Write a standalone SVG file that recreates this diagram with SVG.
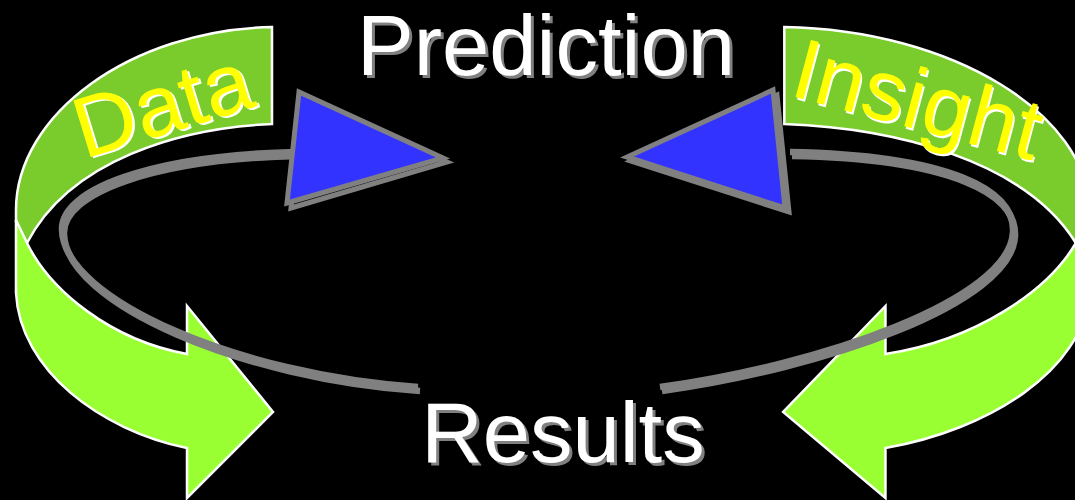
<svg xmlns="http://www.w3.org/2000/svg" xmlns:xlink="http://www.w3.org/1999/xlink" width="1075" height="500" viewBox="0 0 1075 500">
<style>
.dark{fill:#7ACC2C;stroke:#FFFFFF;stroke-width:2.5;stroke-linejoin:miter}
.bright{fill:#99FF33;stroke:#FFFFFF;stroke-width:2.5;stroke-linejoin:miter}
.ns{vector-effect:non-scaling-stroke}
.conn{fill:none;stroke:#808080;stroke-width:6.5}
.tri{fill:#3333FF;stroke:#808080;stroke-width:5;stroke-linejoin:miter}
.trish{fill:none;stroke:#808080;stroke-width:5;stroke-linejoin:miter}
.big{font-family:"Liberation Sans",Arial,sans-serif;font-size:85px}
.lbl{font-family:"Liberation Sans",Arial,sans-serif;font-size:86px}
</style>
<defs>
<g id="ribbon">
<path class="dark ns" d="M272,27 C130,30 16,115 16,210 L16,222 L27,243 C70,160 180,128 272,124 Z"/>
<path class="bright ns" d="M16,220 L16,293 C20,370 100,430 187,448 L187,498 L273,412 L187,306 L187,354 C110,340 50,290 27,243 Z"/>
</g>
</defs>
<rect width="1075" height="500" fill="#000000"/>
<g id="data-arrow">
<use xlink:href="#ribbon"/>
<text class="lbl" transform="translate(84,159) rotate(-17)" fill="#FFFFFF" x="2" y="2">Data</text>
<text class="lbl" transform="translate(84,159) rotate(-17)" fill="#FFFF00">Data</text>
</g>
<g id="insight-arrow">
<use xlink:href="#ribbon" transform="matrix(-1.19 0 0 1 1108 0)"/>
<text class="lbl" transform="translate(788,95) rotate(15)" fill="#FFFFFF" x="2" y="2">Insight</text>
<text class="lbl" transform="translate(788,95) rotate(15)" fill="#FFFF00">Insight</text>
</g>
<g id="connectors">
<path class="conn" transform="translate(2,4)" d="M297,152 C150,155 60,190 62,230 C64,300 240,375 418,387"/>
<path class="conn" d="M297,152 C150,155 60,190 62,230 C64,300 240,375 418,387"/>
<path class="conn" transform="translate(2,4)" d="M790,152 C950,155 1015,190 1013,232 C1010,300 820,365 660,387"/>
<path class="conn" d="M790,152 C950,155 1015,190 1013,232 C1010,300 820,365 660,387"/>
</g>
<g id="triangle-left">
<polygon class="trish" points="302,97 291,208 447,162"/>
<polygon class="tri" points="299,92 287,203 443,158"/>
</g>
<g id="triangle-right">
<polygon class="trish" points="777,95 789,212 631,161"/>
<polygon class="tri" points="773,90 785,208 627,157"/>
</g>
<g id="prediction">
<text class="big" x="549" y="78" text-anchor="middle" fill="#808080">Prediction</text>
<text class="big" x="546" y="75" text-anchor="middle" fill="#FFFFFF">Prediction</text>
</g>
<g id="results">
<text class="big" x="566" y="465" text-anchor="middle" fill="#808080" font-size="82">Results</text>
<text class="big" x="563" y="462" text-anchor="middle" fill="#FFFFFF" font-size="82">Results</text>
</g>
</svg>
